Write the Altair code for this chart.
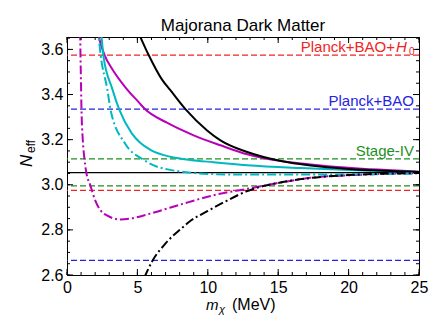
import altair as alt
import pandas as pd
import numpy as np

# ---------------- data ----------------
mag_solid_m = [2.1, 2.27, 2.67, 3.22, 4.16, 5.12, 5.5, 7.1, 9.0, 10.9, 12.8, 14.0, 17.3, 20.0, 25.0]
mag_solid_n = [3.72, 3.655, 3.575, 3.512, 3.431, 3.364, 3.338, 3.275, 3.219, 3.175, 3.135, 3.117, 3.09, 3.075, 3.058]

cyan_solid_m = [2.4, 2.46, 2.58, 3.22, 3.7, 4.6, 5.2, 5.92, 7.34, 8.76, 10.4, 12.8, 16.6, 20.0, 25.0]
cyan_solid_n = [3.70, 3.655, 3.575, 3.424, 3.335, 3.228, 3.186, 3.155, 3.124, 3.11, 3.10, 3.087, 3.074, 3.065, 3.057]

black_solid_m = [5.1, 5.21, 5.8, 6.75, 7.34, 8.41, 9.95, 10.9, 12.8, 15.2, 17.3, 20.0, 22.5, 25.0]
black_solid_n = [3.67, 3.655, 3.575, 3.466, 3.419, 3.335, 3.241, 3.197, 3.145, 3.105, 3.085, 3.07, 3.062, 3.057]

mag_dd_m = [0.93, 0.98, 1.03, 1.12, 1.23, 1.37, 1.66, 2.01, 2.4, 2.84, 3.3, 3.8, 4.5, 5.9, 7.3, 8.64, 10.5, 12.8, 15.0, 17.3, 20.0, 22.5, 25.0]
mag_dd_n = [3.68, 3.5, 3.33, 3.2, 3.12, 3.055, 2.997, 2.93, 2.885, 2.864, 2.851, 2.846, 2.85, 2.872, 2.898, 2.923, 2.955, 2.982, 3.008, 3.031, 3.042, 3.048, 3.052]

cyan_dd_m = [2.15, 2.25, 2.39, 2.86, 3.1, 4.1, 5.4, 6.4, 7.34, 8.5, 10.0, 13.0, 17.0, 21.0, 25.0]
cyan_dd_n = [3.70, 3.655, 3.575, 3.424, 3.33, 3.185, 3.112, 3.08, 3.066, 3.055, 3.048, 3.045, 3.045, 3.047, 3.05]

black_dd_m = [5.5, 6.04, 7.0, 8.17, 8.64, 10.0, 11.37, 12.8, 14.0, 15.0, 17.3, 20.0, 22.5, 25.0]
black_dd_n = [2.59, 2.66, 2.74, 2.809, 2.834, 2.884, 2.93, 2.972, 2.995, 3.008, 3.03, 3.043, 3.049, 3.052]

hline_vals = [3.575, 2.975, 3.335, 2.665, 3.115, 2.995]
hline_keys = ["red", "red", "blue", "blue", "green", "green"]
central_val = [3.054]

label_texts = ["Planck+BAO", "Stage-IV"]
label_vals = [3.335, 3.115]
label_keys = ["blue", "green"]

x_major = [0, 5, 10, 15, 20, 25]
y_major = [2.6, 2.8, 3.0, 3.2, 3.4, 3.6]
x_minor = [float(v) for v in np.arange(0, 25.01, 1.0)]
y_minor = [round(float(v), 2) for v in np.arange(2.6, 3.651, 0.05)]

# ---------------- style ----------------
W, H = 352, 238
FONT = "Liberation Sans"
xs = alt.Scale(domain=[0, 25], nice=False, zero=False)
ys = alt.Scale(domain=[2.6, 3.655], nice=False, zero=False)
AXX = alt.Axis(values=x_major, title=None, labelFlush=False, labelPadding=4)
AXY = alt.Axis(values=y_major, title=None, format=".1f", labelPadding=4)

col_dom = ["red", "blue", "green", "magenta", "cyan", "black"]
col_rng = ["#f02424", "#2424e0", "#1f8f1f", "#b800b8", "#00b8c0", "#000000"]
cscale = alt.Scale(domain=col_dom, range=col_rng)


def curves(pairs):
    rows = []
    for key, ms, ns in pairs:
        for m, n in zip(ms, ns):
            rows.append({"s": key, "m": m, "N": n})
    return pd.DataFrame(rows)


solid_df = curves([("magenta", mag_solid_m, mag_solid_n),
                   ("cyan", cyan_solid_m, cyan_solid_n),
                   ("black", black_solid_m, black_solid_n)])
dd_df = curves([("magenta", mag_dd_m, mag_dd_n),
                ("cyan", cyan_dd_m, cyan_dd_n),
                ("black", black_dd_m, black_dd_n)])

X = alt.X("m:Q", scale=xs, axis=AXX)
Y = alt.Y("N:Q", scale=ys, axis=AXY)
C = alt.Color("s:N", scale=cscale, legend=None)

hl_df = pd.DataFrame({"N": hline_vals, "s": hline_keys})
hlines = alt.Chart(hl_df).mark_rule(strokeWidth=1.3, strokeDash=[6, 3]).encode(y=Y, color=C)
central = alt.Chart(pd.DataFrame({"N": central_val})).mark_rule(strokeWidth=1.2, color="black").encode(y=Y)

solid = alt.Chart(solid_df).mark_line(strokeWidth=2, clip=True, interpolate="monotone").encode(x=X, y=Y, color=C)
dd = alt.Chart(dd_df).mark_line(strokeWidth=2, clip=True, interpolate="monotone",
                                strokeDash=[9, 3, 2, 3]).encode(x=X, y=Y, color=C)

# ticks (inward, mirrored)
xmaj = pd.DataFrame({"m": x_major})
xmin = pd.DataFrame({"m": x_minor})
ymaj = pd.DataFrame({"N": y_major})
ymin = pd.DataFrame({"N": y_minor})
tick_layers = []
for df, L in [(xmaj, 6), (xmin, 3)]:
    tick_layers.append(alt.Chart(df).mark_rule(color="black", strokeWidth=1).encode(
        x=X, y=alt.value(H), y2=alt.value(H - L)))
    tick_layers.append(alt.Chart(df).mark_rule(color="black", strokeWidth=1).encode(
        x=X, y=alt.value(0), y2=alt.value(L)))
for df, L in [(ymaj, 6), (ymin, 3)]:
    tick_layers.append(alt.Chart(df).mark_rule(color="black", strokeWidth=1).encode(
        y=Y, x=alt.value(0), x2=alt.value(L)))
    tick_layers.append(alt.Chart(df).mark_rule(color="black", strokeWidth=1).encode(
        y=Y, x=alt.value(W), x2=alt.value(W - L)))

# annotations
lab_df = pd.DataFrame({"m": [25.0] * len(label_vals), "N": label_vals, "t": label_texts, "s": label_keys})
labels = alt.Chart(lab_df).mark_text(font=FONT, fontSize=15, align="right", baseline="alphabetic",
                                     dx=-5, dy=-3).encode(x=X, y=Y, text="t:N", color=C)
red_df = pd.DataFrame({"m": [25.0], "N": [3.575], "s": ["red"]})
red1 = alt.Chart(red_df).mark_text(font=FONT, fontSize=15, align="right", baseline="alphabetic",
                                   dx=-24, dy=-3, text="Planck+BAO+").encode(x=X, y=Y, color=C)
red2 = alt.Chart(red_df).mark_text(font=FONT, fontSize=15, align="left", baseline="alphabetic",
                                   fontStyle="italic", dx=-23, dy=-3, text="H").encode(x=X, y=Y, color=C)
red3 = alt.Chart(red_df).mark_text(font=FONT, fontSize=10, align="left", baseline="alphabetic",
                                   dx=-10, dy=0, text="0").encode(x=X, y=Y, color=C)

one = pd.DataFrame({"k": [0]})
title = alt.Chart(one).mark_text(font=FONT, fontSize=17, align="center", baseline="alphabetic",
                                 text="Majorana Dark Matter").encode(x=alt.value(W / 2), y=alt.value(-6))
xt1 = alt.Chart(one).mark_text(font=FONT, fontSize=15, fontStyle="italic", align="left",
                               baseline="alphabetic", text="m").encode(x=alt.value(139), y=alt.value(H + 35))
xt2 = alt.Chart(one).mark_text(font=FONT, fontSize=11, fontStyle="italic", align="left",
                               baseline="alphabetic", text="χ").encode(x=alt.value(152), y=alt.value(H + 38))
xt3 = alt.Chart(one).mark_text(font=FONT, fontSize=16, align="left",
                               baseline="alphabetic", text="(MeV)").encode(x=alt.value(165), y=alt.value(H + 35))
yt1 = alt.Chart(one).mark_text(font=FONT, fontSize=17, fontStyle="italic", align="left", angle=270,
                               baseline="alphabetic", text="N").encode(x=alt.value(-35), y=alt.value(130))
yt2 = alt.Chart(one).mark_text(font=FONT, fontSize=12, align="left", angle=270,
                               baseline="alphabetic", text="eff").encode(x=alt.value(-32), y=alt.value(116))

chart = alt.layer(hlines, central, solid, dd, *tick_layers, labels, red1, red2, red3,
                  title, xt1, xt2, xt3, yt1, yt2).properties(
    width=W, height=H,
    autosize=alt.AutoSizeParams(type="none"),
    padding={"left": 59, "top": 29, "right": 20, "bottom": 52},
).configure_view(stroke="black", strokeWidth=1).configure_axis(
    labelFont=FONT, labelFontSize=16, labelColor="black", ticks=False, tickSize=0,
    domain=False, grid=False
)

chart.save("out.html", embed_options={"renderer": "svg", "actions": False})
